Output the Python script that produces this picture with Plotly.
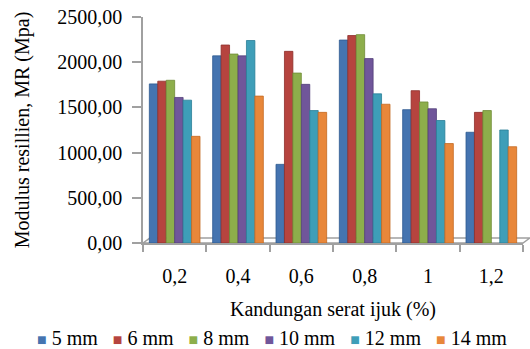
import plotly.graph_objects as go

categories = ["0,2", "0,4", "0,6", "0,8", "1", "1,2"]
series_names = ["5 mm", "6 mm", "8 mm", "10 mm", "12 mm", "14 mm"]
mm5 = [1760, 2070, 870, 2245, 1475, 1225]
mm6 = [1790, 2190, 2120, 2295, 1685, 1445]
mm8 = [1800, 2090, 1880, 2305, 1560, 1465]
mm10 = [1610, 2070, 1755, 2040, 1485, None]
mm12 = [1580, 2240, 1465, 1650, 1355, 1250]
mm14 = [1180, 1625, 1445, 1535, 1100, 1065]
series_values = [mm5, mm6, mm8, mm10, mm12, mm14]
colors = ["#4574B0", "#B6443F", "#8DAE4B", "#70569A", "#3E9EB8", "#E8873A"]
edge = ["#2F5A90", "#8E2E2B", "#6E8C36", "#53407A", "#2A7F98", "#C46A22"]

fig = go.Figure()
for name, vals, c, e in zip(series_names, series_values, colors, edge):
    fig.add_trace(go.Bar(x=categories, y=vals, name=name, showlegend=False,
                         marker=dict(color=c, line=dict(color=e, width=0.8))))

font = "'Times New Roman', 'Liberation Serif', serif"
fs = 20
fig.update_layout(
    width=530, height=349,
    margin=dict(l=143, r=7, t=17, b=106),
    paper_bgcolor="white", plot_bgcolor="white",
    separators=",.",
    barmode="group", bargap=0.2, bargroupgap=0.0,
    font=dict(family=font, size=fs, color="black"),
    showlegend=False,
    xaxis=dict(type="category", showline=True, linecolor="#A0A0A0", linewidth=1.5,
               ticks="outside", tickson="boundaries", ticklen=7, tickcolor="#A0A0A0",
               tickwidth=1.5, ticklabelstandoff=14,
               title=dict(text="Kandungan serat ijuk (%)", standoff=16,
                          font=dict(family=font, size=fs)),
               showgrid=False, automargin=False),
    yaxis=dict(range=[0, 2500], dtick=500, tickformat=".2f", showline=True,
               linecolor="#A0A0A0", linewidth=1.5, ticks="outside", ticklen=9,
               tickcolor="#A0A0A0", tickwidth=1.5, showgrid=False, zeroline=False,
               ticklabelstandoff=6, automargin=False,
               title=dict(text="Modulus resillien, MR (Mpa)", standoff=22,
                          font=dict(family=font, size=fs))),
)
# legend as a single line of text
parts = []
for name, c in zip(series_names, colors):
    parts.append("<span style='color:%s;font-size:16px'>■</span> %s" % (c, name))
legend_text = "&nbsp;&nbsp;&nbsp;".join(parts)
fig.add_annotation(text=legend_text, xref="paper", yref="paper", x=0.34, y=-0.42,
                   xanchor="center", yanchor="middle", showarrow=False,
                   font=dict(family=font, size=fs, color="black"))
# 3D floor outline
fig.add_shape(type="path", xref="paper", yref="paper",
              path="M 0,0 L 0.018,0.022 L 1.018,0.022 L 1.0,0 Z",
              line=dict(color="#A0A0A0", width=1.5), fillcolor="rgba(0,0,0,0)",
              layer="below")
fig.write_html("out.html")
